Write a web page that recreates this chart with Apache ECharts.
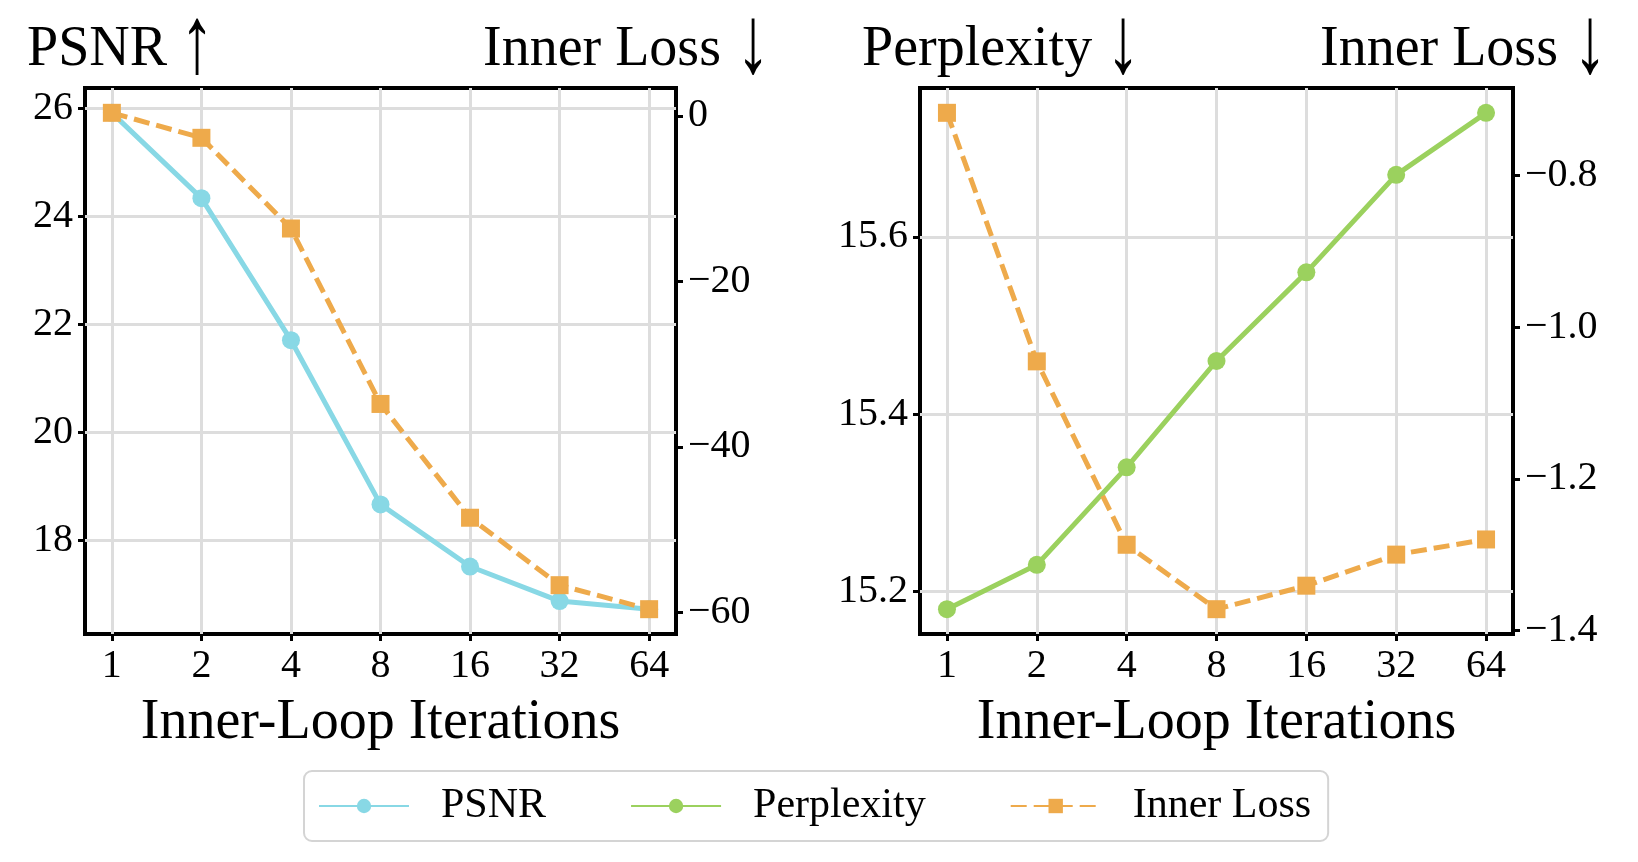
<!DOCTYPE html>
<html>
<head>
<meta charset="utf-8">
<title>Inner-loop iterations</title>
<script src="https://cdn.jsdelivr.net/npm/echarts@6/dist/echarts.min.js"></script>
<style>
  html, body { margin: 0; padding: 0; background: #fff; }
  #chart { width: 1638px; height: 862px; }
</style>
</head>
<body>
<div id="chart"></div>
<script>
// data
const iterations = [1, 2, 4, 8, 16, 32, 64];
const psnr = [25.92, 24.34, 21.71, 18.67, 17.52, 16.88, 16.73];
const innerLossPsnr = [0.38, -2.64, -13.6, -34.8, -48.55, -56.7, -59.6];
const perplexity = [15.18, 15.23, 15.34, 15.46, 15.56, 15.67, 15.74];
const innerLossPpl = [-0.717, -1.045, -1.287, -1.372, -1.341, -1.300, -1.280];

// tick labels
const psnrTicks = [18, 20, 22, 24, 26];
const lossTicksA = [-60, -40, -20, 0];
const pplTicks = [15.2, 15.4, 15.6];
const lossTicksB = [-1.4, -1.2, -1.0, -0.8];
const xTicks = iterations.map(v => Math.log2(v));

const FONT = '"Liberation Serif", "Times New Roman", serif';
const C_PSNR = '#88d8e5';
const C_PPL = '#9bd15e';
const C_LOSS = '#eeaa4b';

// matplotlib-like 5% margins
function padRange(vals) {
  const lo = Math.min(...vals), hi = Math.max(...vals), p = (hi - lo) * 0.05;
  return [lo - p, hi + p];
}
const minus = s => String(s).replace('-', '\u2212');
const pts = ys => iterations.map((it, i) => [Math.log2(it), ys[i]]);

const grids = [
  { left: 85, top: 88, width: 591, height: 546 },
  { left: 920, top: 88, width: 593, height: 546 }
];

function xAxisFor(gridIndex) {
  return {
    type: 'value', gridIndex: gridIndex, min: -0.3, max: 6.3,
    name: 'Inner-Loop Iterations', nameLocation: 'middle', nameGap: 61,
    nameTextStyle: { fontFamily: FONT, fontSize: 56, color: '#000' },
    axisLine: { show: false, onZero: false },
    axisTick: { show: true, length: 7, lineStyle: { color: '#000', width: 3 }, customValues: xTicks },
    axisLabel: { fontFamily: FONT, fontSize: 40, color: '#000', margin: 12, customValues: xTicks,
      formatter: v => String(Math.round(Math.pow(2, v))) },
    splitLine: { show: true, lineStyle: { color: '#dddddd', width: 3 } }
  };
}

function yAxisFor(gridIndex, pos, range, ticks, fmt, split) {
  return {
    type: 'value', gridIndex: gridIndex, position: pos, min: range[0], max: range[1],
    axisLine: { show: false, onZero: false },
    axisTick: { show: true, length: 7, lineStyle: { color: '#000', width: 3 }, customValues: ticks },
    axisLabel: { fontFamily: FONT, fontSize: 40, color: '#000', margin: 12, customValues: ticks, formatter: fmt },
    splitLine: { show: split, lineStyle: { color: '#dddddd', width: 3 } }
  };
}

// tall thin arrows next to the panel titles
function arrow(ch, cx) {
  return {
    type: 'text', x: cx, y: 46.5, scaleY: 1.4,
    style: { text: ch, font: '68px "Liberation Serif"', fill: '#000', align: 'center', verticalAlign: 'middle' }
  };
}

const chart = echarts.init(document.getElementById('chart'));

const titleStyle = { fontFamily: FONT, fontSize: 56, fontWeight: 'normal', color: '#000' };

chart.setOption({
  animation: false,
  backgroundColor: '#fff',
  title: [
    { text: 'PSNR', left: 27, top: 22, padding: 0, textStyle: titleStyle },
    { text: 'Inner Loss', left: 483, top: 22, padding: 0, textStyle: titleStyle },
    { text: 'Perplexity', left: 862, top: 22, padding: 0, textStyle: titleStyle },
    { text: 'Inner Loss', left: 1320, top: 22, padding: 0, textStyle: titleStyle }
  ],
  graphic: [
    arrow('\u2191', 197),
    arrow('\u2193', 753),
    arrow('\u2193', 1123),
    arrow('\u2193', 1590)
  ],
  grid: grids.map(g => Object.assign({ show: true, borderColor: '#000', borderWidth: 4, backgroundColor: 'transparent' }, g)),
  xAxis: [xAxisFor(0), xAxisFor(1)],
  yAxis: [
    yAxisFor(0, 'left', padRange(psnr), psnrTicks, v => String(v), true),
    yAxisFor(0, 'right', padRange(innerLossPsnr), lossTicksA, v => minus(v), false),
    yAxisFor(1, 'left', padRange(perplexity), pplTicks, v => v.toFixed(1), true),
    yAxisFor(1, 'right', padRange(innerLossPpl), lossTicksB, v => minus(v.toFixed(1)), false)
  ],
  legend: {
    left: 304, top: 771,
    data: ['PSNR', 'Perplexity', 'Inner Loss'],
    itemWidth: 90, itemHeight: 18, itemGap: 84,
    padding: [14, 17, 14, 14],
    borderColor: '#d4d4d4', borderWidth: 2, borderRadius: 8,
    textStyle: { fontFamily: FONT, fontSize: 42, color: '#000', padding: [0, 0, 0, 27] }
  },
  series: [
    {
      name: 'PSNR', type: 'line', xAxisIndex: 0, yAxisIndex: 0, data: pts(psnr),
      symbol: 'circle', symbolSize: 18,
      itemStyle: { color: C_PSNR }, lineStyle: { color: C_PSNR, width: 5 }
    },
    {
      name: 'Inner Loss', type: 'line', xAxisIndex: 0, yAxisIndex: 1, data: pts(innerLossPsnr),
      symbol: 'rect', symbolSize: 18,
      itemStyle: { color: C_LOSS }, lineStyle: { color: C_LOSS, width: 5, type: [16, 7] }
    },
    {
      name: 'Perplexity', type: 'line', xAxisIndex: 1, yAxisIndex: 2, data: pts(perplexity),
      symbol: 'circle', symbolSize: 18,
      itemStyle: { color: C_PPL }, lineStyle: { color: C_PPL, width: 5 }
    },
    {
      name: 'Inner Loss', type: 'line', xAxisIndex: 1, yAxisIndex: 3, data: pts(innerLossPpl),
      symbol: 'rect', symbolSize: 18,
      itemStyle: { color: C_LOSS }, lineStyle: { color: C_LOSS, width: 5, type: [16, 7] }
    }
  ]
});

window.addEventListener('resize', () => chart.resize());
</script>
</body>
</html>
